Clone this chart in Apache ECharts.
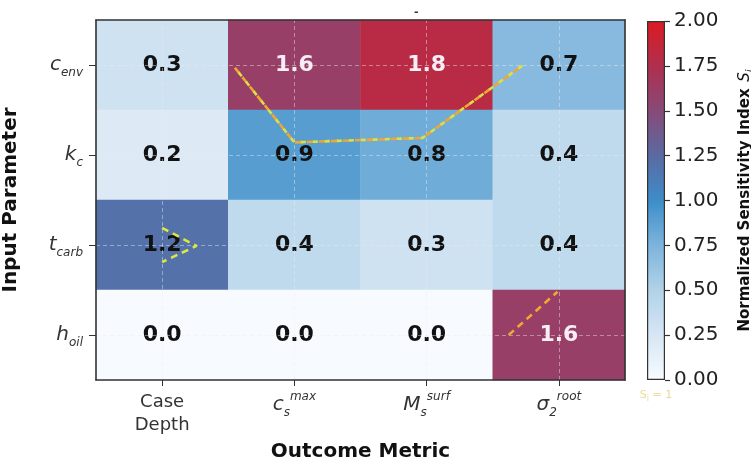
<!DOCTYPE html>
<html><head><meta charset="utf-8">
<script src="https://cdn.jsdelivr.net/npm/echarts@6/dist/echarts.min.js"></script>
<style>html,body{margin:0;padding:0;background:#fff}#c{width:751px;height:465px}</style>
</head><body><div id="c"></div>
<script>
// Categories (columns left->right, rows top->bottom)
const xCats = ['Case Depth', 'c_s^max', 'M_s^surf', 'sigma_2^root'];
const xTickLabels = ['Case\nDepth', '{m|c}{b|s}{p|max}', '{m|M}{b|s}{p|surf}', '{m|σ}{b|2}{p|root}'];
const yCats = ['c_env', 'k_c', 't_carb', 'h_oil'];
const yTickLabels = ['{m|c}{b|env}', '{m|k}{b|c}', '{m|t}{b|carb}', '{m|h}{b|oil}'];
// Sensitivity values, one array per input parameter (row)
const row_c_env  = [0.3, 1.6, 1.8, 0.7];
const row_k_c    = [0.2, 0.9, 0.8, 0.4];
const row_t_carb = [1.2, 0.4, 0.3, 0.4];
const row_h_oil  = [0.0, 0.0, 0.0, 1.6];
const rows = [row_c_env, row_k_c, row_t_carb, row_h_oil];
// S_i = 1 contour traces (data space: x 0..4 columns, y 0..4 rows from bottom)
const contourTop  = [[1.05, 3.47], [1.5, 2.64], [2.47, 2.69], [3.23, 3.5]];
const contourTcarb = [[0.5, 1.69], [0.76, 1.49], [0.5, 1.31]];
const contourHoil = [[3.12, 0.5], [3.49, 0.98]];
// Colour bar
const cbMin = 0, cbMax = 2, cbStep = 0.25;
const cmapColors = ['#f7fbff', '#d6e6f4', '#b2d2e9', '#7db4dc', '#3d8dc8', '#5a6aa2', '#874a78', '#b02f4e', '#dc1a22'];

const heatData = [];
rows.forEach((r, yi) => r.forEach((v, xi) => {
  heatData.push({value: [xi, yi, v], label: {color: v >= 1.5 ? '#f6eef4' : '#111'}});
}));
const gridMarks = [];
xCats.forEach((_, i) => gridMarks.push({xAxis: i + 0.5}));
yCats.forEach((_, i) => gridMarks.push({yAxis: i + 0.5}));

const FF = 'DejaVu Sans';
const subRich = {
  m: {fontSize: 20, fontStyle: 'italic', fontFamily: FF, color: '#333', lineHeight: 28, verticalAlign: 'middle'},
  b: {fontSize: 12, fontStyle: 'italic', fontFamily: FF, color: '#333', lineHeight: 28, verticalAlign: 'bottom'},
  p: {fontSize: 12, fontStyle: 'italic', fontFamily: FF, color: '#333', lineHeight: 28, verticalAlign: 'top'}
};
const cbStops = cmapColors.map((c, i) => ({offset: i / (cmapColors.length - 1), color: c}));

const chart = echarts.init(document.getElementById('c'), null, {renderer: 'canvas'});
const dash = (color, off) => ({color: color, width: 2.6, type: [7, 5], dashOffset: off});
chart.setOption({
  animation: false,
  title: {text: '-', left: 409, top: 2, textStyle: {fontSize: 11, fontWeight: 'bold', color: '#333', fontFamily: FF}},
  grid: [
    {left: 96, top: 20, width: 529, height: 360, outerBoundsMode: 'none', containLabel: false},
    {left: 647, top: 21, width: 18, height: 359, outerBoundsMode: 'none', containLabel: false}
  ],
  xAxis: [
    {type: 'category', gridIndex: 0, data: xCats, z: 10,
     axisLine: {show: true, lineStyle: {color: '#333', width: 1.6}},
     axisTick: {show: true, alignWithLabel: true, length: 6, lineStyle: {color: '#333'}},
     axisLabel: {interval: 0, fontSize: 18, fontFamily: FF, color: '#333', lineHeight: 23, margin: 11,
       formatter: (v, i) => xTickLabels[i], rich: subRich},
     splitLine: {show: false},
     name: 'Outcome Metric', nameLocation: 'middle', nameGap: 61,
     nameTextStyle: {fontSize: 20, fontWeight: 'bold', fontFamily: FF, color: '#111'}},
    {type: 'value', gridIndex: 0, min: 0, max: 4, position: 'top', z: 10,
     axisLine: {show: true, onZero: false, lineStyle: {color: '#333', width: 1.6}},
     axisTick: {show: false}, axisLabel: {show: false}, splitLine: {show: false}},
    {type: 'category', gridIndex: 1, data: ['S_i = 1'],
     axisLine: {show: false}, axisTick: {show: false},
     axisLabel: {interval: 0, margin: 7, formatter: () => '{s|S}{t|i}{s| = 1}',
       rich: {s: {fontSize: 11, fontFamily: FF, color: '#e8d99a', lineHeight: 16, verticalAlign: 'middle'},
              t: {fontSize: 8, fontFamily: FF, color: '#e8d99a', lineHeight: 16, verticalAlign: 'bottom'}}}}
  ],
  yAxis: [
    {type: 'category', gridIndex: 0, data: yCats, inverse: true, z: 10,
     axisLine: {show: true, lineStyle: {color: '#333', width: 1.6}},
     axisTick: {show: true, alignWithLabel: true, length: 7, lineStyle: {color: '#333'}},
     axisLabel: {interval: 0, margin: 13, formatter: (v, i) => yTickLabels[i], rich: subRich},
     splitLine: {show: false},
     name: 'Input Parameter', nameLocation: 'middle', nameGap: 75, nameRotate: 90,
     nameTextStyle: {fontSize: 20, fontWeight: 'bold', fontFamily: FF, color: '#111'}},
    {type: 'value', gridIndex: 0, min: 0, max: 4, position: 'right', z: 10,
     axisLine: {show: true, onZero: false, lineStyle: {color: '#333', width: 1.6}},
     axisTick: {show: false}, axisLabel: {show: false}, splitLine: {show: false}},
    {type: 'value', gridIndex: 1, min: cbMin, max: cbMax, interval: cbStep, position: 'right',
     axisLine: {show: false}, splitLine: {show: false},
     axisTick: {show: true, length: 5, lineStyle: {color: '#333', width: 1.2}},
     axisLabel: {fontSize: 20, fontFamily: FF, color: '#222', margin: 9, formatter: v => v.toFixed(2)},
     name: '{n|Normalized Sensitivity Index}  {i|S}{s|i}', nameLocation: 'middle', nameGap: 70, nameRotate: 90,
     nameTextStyle: {rich: {
       n: {fontSize: 15, fontWeight: 'bold', fontFamily: FF, color: '#111', lineHeight: 20, verticalAlign: 'middle'},
       i: {fontSize: 15, fontStyle: 'italic', fontFamily: FF, color: '#111', lineHeight: 20, verticalAlign: 'middle'},
       s: {fontSize: 10, fontStyle: 'italic', fontFamily: FF, color: '#111', lineHeight: 20, verticalAlign: 'bottom'}}}}
  ],
  visualMap: {type: 'continuous', show: false, seriesIndex: 0, min: cbMin, max: cbMax, dimension: 2,
    inRange: {color: cmapColors}},
  series: [
    {type: 'heatmap', xAxisIndex: 0, yAxisIndex: 0, data: heatData,
     label: {show: true, fontSize: 22, fontWeight: 'bold', fontFamily: FF,
       formatter: p => p.value[2].toFixed(1)},
     itemStyle: {borderWidth: 0}},
    {type: 'line', xAxisIndex: 1, yAxisIndex: 1, data: [], z: 4, silent: true,
     markLine: {silent: true, symbol: 'none', label: {show: false},
       lineStyle: {color: 'rgba(235,235,240,0.45)', type: [4, 3], width: 1}, data: gridMarks}},
    {type: 'line', xAxisIndex: 1, yAxisIndex: 1, data: contourTop, z: 5, symbol: 'none', silent: true,
     lineStyle: dash('#f0a636', 0)},
    {type: 'line', xAxisIndex: 1, yAxisIndex: 1, data: contourTop, z: 6, symbol: 'none', silent: true,
     lineStyle: {color: '#d8e244', width: 2.6, type: [5, 7], dashOffset: 6}},
    {type: 'line', xAxisIndex: 1, yAxisIndex: 1, data: contourTcarb, z: 5, symbol: 'none', silent: true,
     lineStyle: dash('#dde83c', 0)},
    {type: 'line', xAxisIndex: 1, yAxisIndex: 1, data: contourHoil, z: 5, symbol: 'none', silent: true,
     lineStyle: dash('#f2a832', 0)},
    {type: 'bar', xAxisIndex: 2, yAxisIndex: 2, data: [cbMax], barWidth: '100%', silent: true,
     itemStyle: {color: new echarts.graphic.LinearGradient(0, 1, 0, 0, cbStops), borderColor: '#333', borderWidth: 1.2}}
  ]
});
</script></body></html>
